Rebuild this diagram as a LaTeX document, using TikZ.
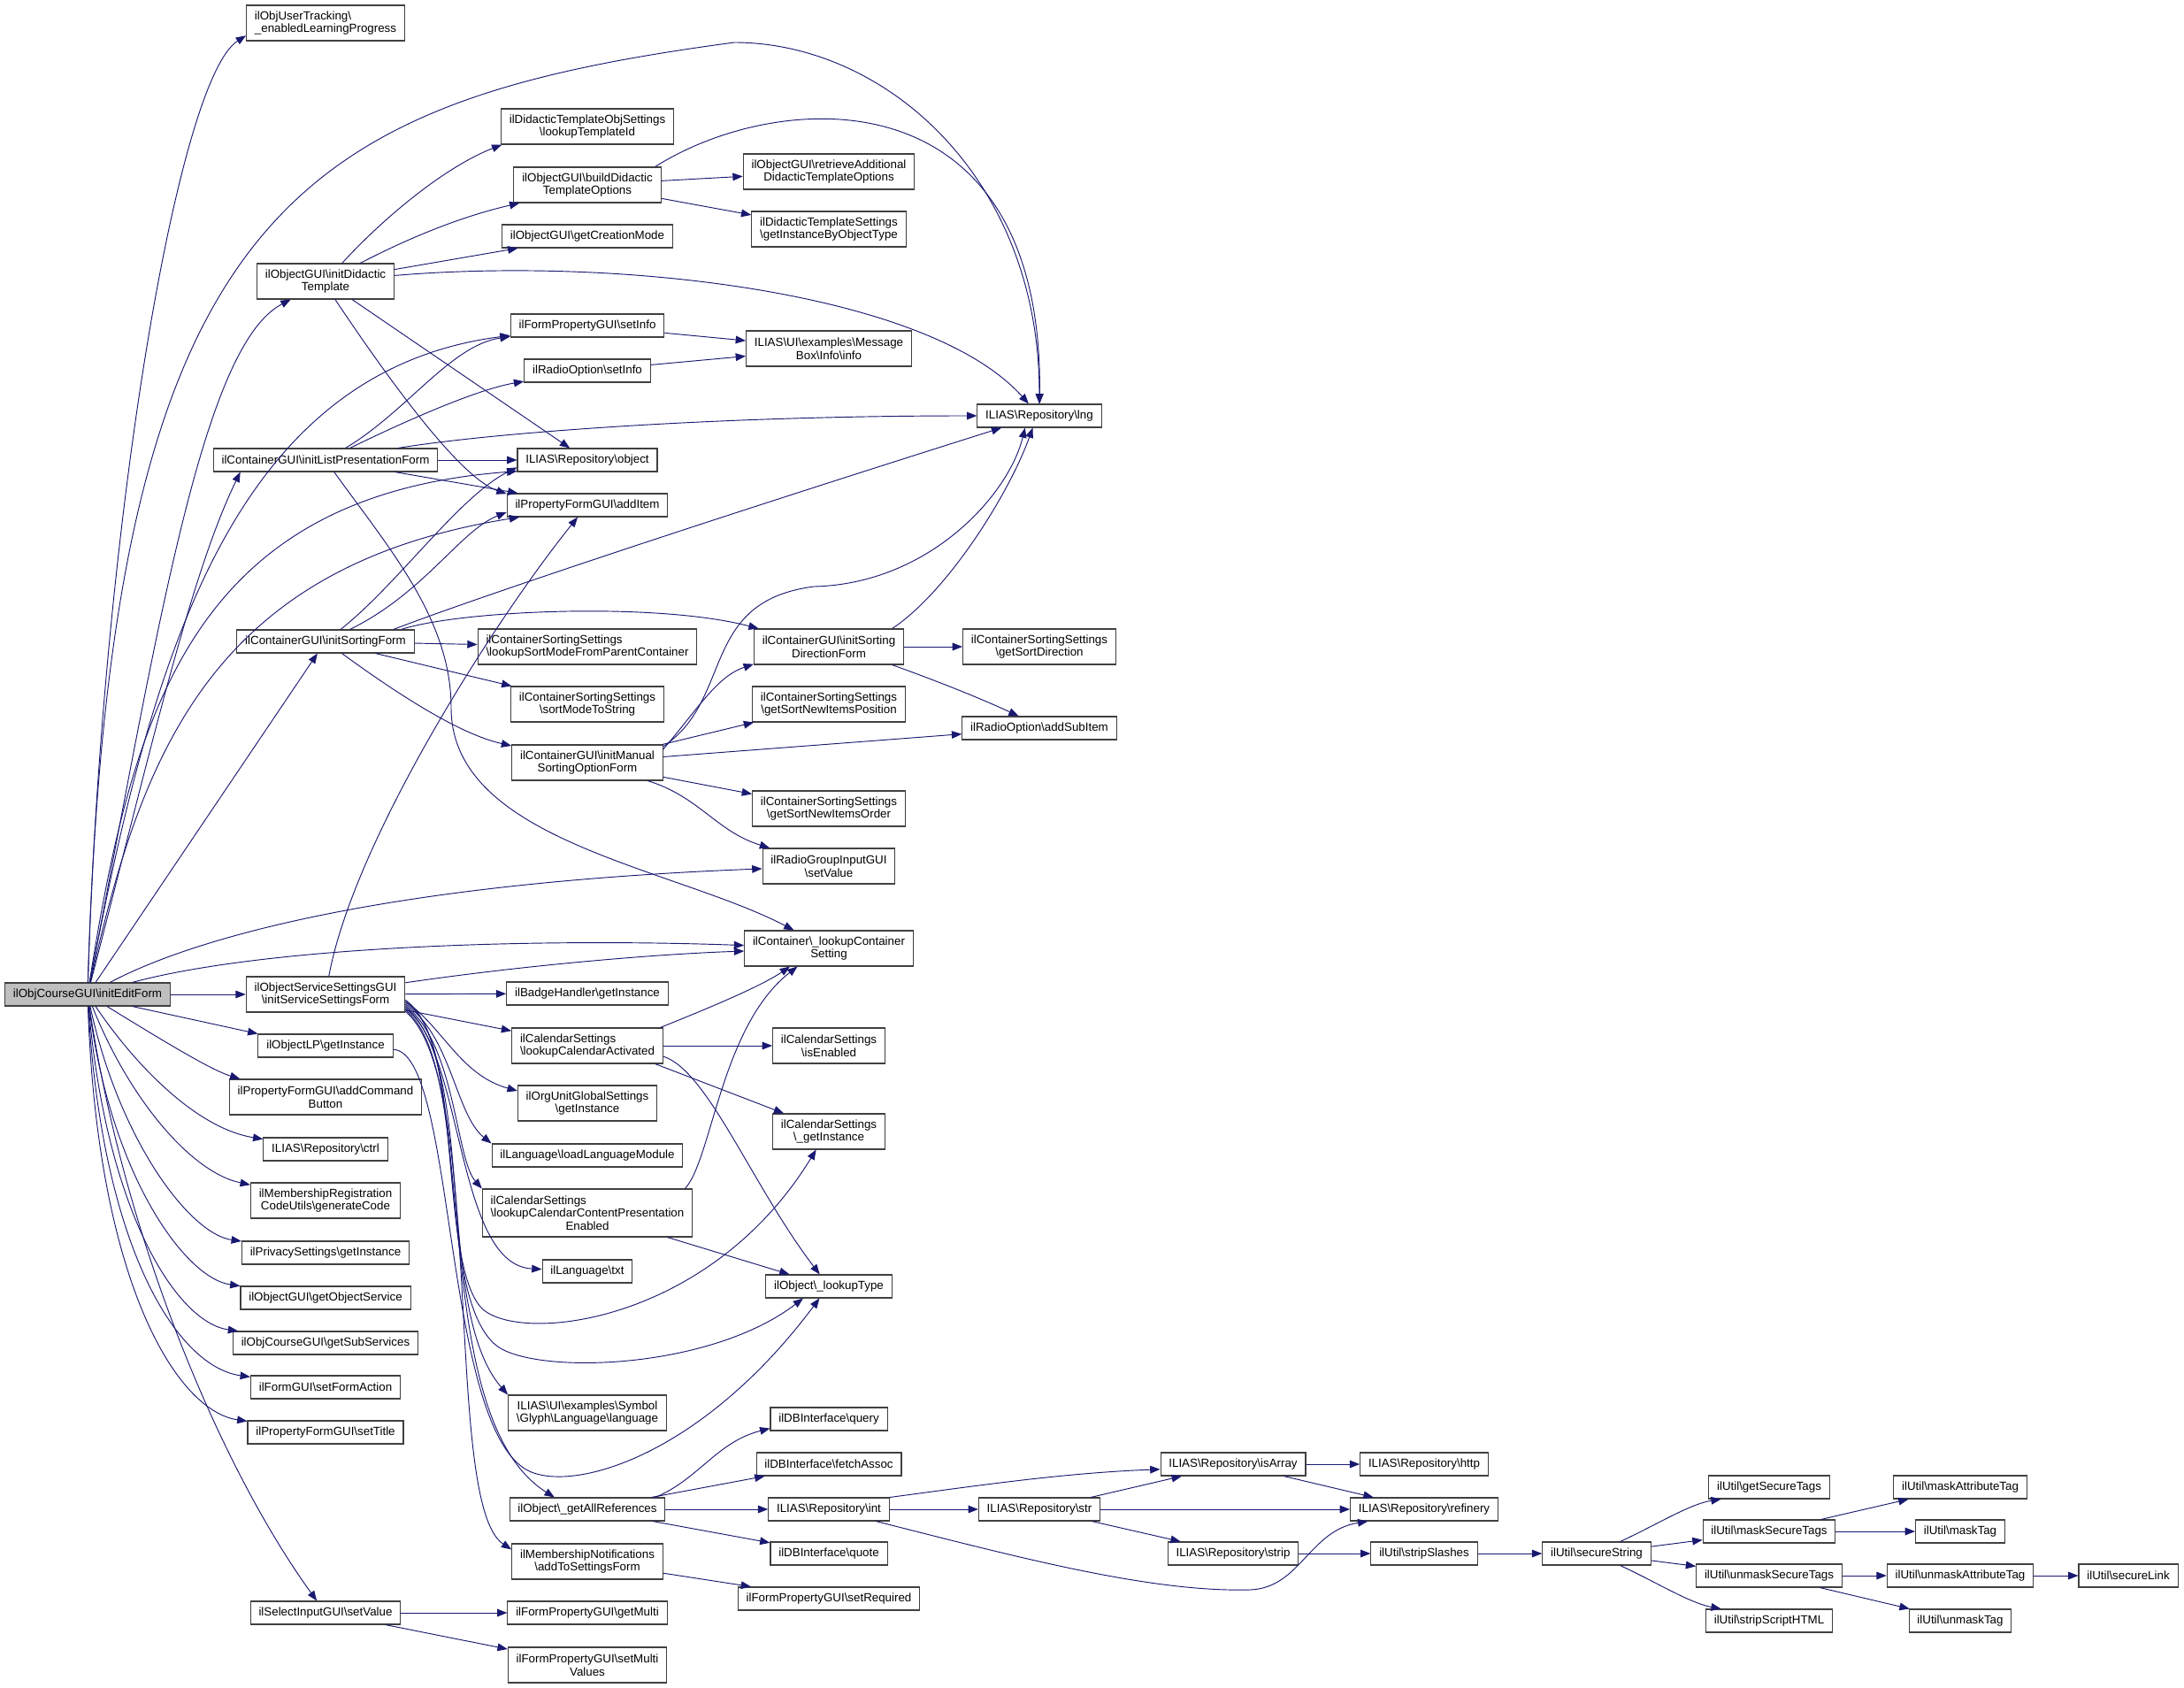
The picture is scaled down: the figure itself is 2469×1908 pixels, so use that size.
\documentclass[tikz,border=0pt]{standalone}
\usepackage{fontspec}
\setmainfont{Liberation Sans}
\usetikzlibrary{arrows.meta}
\definecolor{edgeblue}{HTML}{191970}
\definecolor{rootgray}{HTML}{BFBFBF}
\newcommand{\bsl}{\textbackslash}
\tikzset{
  fn/.style={draw=black!75, fill=white, line width=0.8pt, font=\fontsize{10}{11}\selectfont,
    inner xsep=7pt, inner ysep=1pt, minimum height=19.5pt, align=center},
  fntwo/.style={fn, minimum height=30pt},
  fnthree/.style={fn, minimum height=40.5pt},
  fnroot/.style={fn, fill=rootgray},
  call/.style={->, >={Triangle[length=8.5pt,width=6.5pt]}, draw=edgeblue, line width=0.7pt}
}
\begin{document}
\begin{tikzpicture}[x=0.75pt, y=0.75pt]
\fill[white] (0,0) rectangle (2469,-1908);
\node[fnroot] (root) at (99,-1124) {ilObjCourseGUI\bsl initEditForm};
\node[fntwo, align=left] (track) at (368,-26) {ilObjUserTracking\bsl\\\_enabledLearningProgress};
\node[fntwo] (didactic) at (368,-318) {ilObjectGUI\bsl initDidactic\\Template};
\node[fn] (listPres) at (368,-520) {ilContainerGUI\bsl initListPresentationForm};
\node[fn] (sorting) at (368,-725) {ilContainerGUI\bsl initSortingForm};
\node[fntwo] (service) at (368,-1124) {ilObjectServiceSettingsGUI\\\bsl initServiceSettingsForm};
\node[fn] (objLP) at (368,-1182) {ilObjectLP\bsl getInstance};
\node[fntwo] (addCmd) at (368,-1240) {ilPropertyFormGUI\bsl addCommand\\Button};
\node[fn] (ctrl) at (368,-1299) {ILIAS\bsl Repository\bsl ctrl};
\node[fntwo] (genCode) at (368,-1357) {ilMembershipRegistration\\CodeUtils\bsl generateCode};
\node[fn] (privacy) at (368,-1416) {ilPrivacySettings\bsl getInstance};
\node[fn] (objService) at (368,-1467) {ilObjectGUI\bsl getObjectService};
\node[fn] (subServ) at (368,-1518) {ilObjCourseGUI\bsl getSubServices};
\node[fn] (formAction) at (368,-1568) {ilFormGUI\bsl setFormAction};
\node[fn] (setTitle) at (368,-1619) {ilPropertyFormGUI\bsl setTitle};
\node[fn] (selValue) at (368,-1823) {ilSelectInputGUI\bsl setValue};
\node[fntwo] (tmplId) at (664,-143) {ilDidacticTemplateObjSettings\\\bsl lookupTemplateId};
\node[fntwo] (buildDid) at (664,-209) {ilObjectGUI\bsl buildDidactic\\TemplateOptions};
\node[fn] (creation) at (664,-267) {ilObjectGUI\bsl getCreationMode};
\node[fn] (fpInfo) at (664,-368) {ilFormPropertyGUI\bsl setInfo};
\node[fn] (roInfo) at (664,-419) {ilRadioOption\bsl setInfo};
\node[fn] (repoObj) at (664,-520) {ILIAS\bsl Repository\bsl object};
\node[fn] (addItem) at (664,-571) {ilPropertyFormGUI\bsl addItem};
\node[fntwo, align=left] (modeParent) at (664,-731) {ilContainerSortingSettings\\\bsl lookupSortModeFromParentContainer};
\node[fntwo] (modeToString) at (664,-796) {ilContainerSortingSettings\\\bsl sortModeToString};
\node[fntwo] (manual) at (664,-862) {ilContainerGUI\bsl initManual\\SortingOptionForm};
\node[fn] (badge) at (664,-1123) {ilBadgeHandler\bsl getInstance};
\node[fntwo, align=left] (calAct) at (664,-1182) {ilCalendarSettings\\\bsl lookupCalendarActivated};
\node[fntwo] (orgUnit) at (664,-1247) {ilOrgUnitGlobalSettings\\\bsl getInstance};
\node[fn] (loadLang) at (664,-1306) {ilLanguage\bsl loadLanguageModule};
\node[fnthree, align=left] (calContent) at (664,-1371) {ilCalendarSettings\\\bsl lookupCalendarContentPresentation\\\hspace*{\fill}Enabled\hspace*{\fill}};
\node[fn] (langTxt) at (664,-1437) {ilLanguage\bsl txt};
\node[fntwo] (glyph) at (664,-1597) {ILIAS\bsl UI\bsl examples\bsl Symbol\\\bsl Glyph\bsl Language\bsl language};
\node[fn] (getAllRefs) at (664,-1706) {ilObject\bsl\_getAllReferences};
\node[fntwo] (addToSet) at (664,-1765) {ilMembershipNotifications\\\bsl addToSettingsForm};
\node[fn] (getMulti) at (664,-1823) {ilFormPropertyGUI\bsl getMulti};
\node[fntwo] (setMultiVal) at (664,-1882) {ilFormPropertyGUI\bsl setMulti\\Values};
\node[fntwo] (retrieve) at (937,-194) {ilObjectGUI\bsl retrieveAdditional\\DidacticTemplateOptions};
\node[fntwo] (instByType) at (937,-259) {ilDidacticTemplateSettings\\\bsl getInstanceByObjectType};
\node[fntwo] (msgInfo) at (937,-394) {ILIAS\bsl UI\bsl examples\bsl Message\\Box\bsl Info\bsl info};
\node[fntwo] (sortDir) at (937,-731) {ilContainerGUI\bsl initSorting\\DirectionForm};
\node[fntwo] (newPos) at (937,-796) {ilContainerSortingSettings\\\bsl getSortNewItemsPosition};
\node[fntwo] (newOrder) at (937,-914) {ilContainerSortingSettings\\\bsl getSortNewItemsOrder};
\node[fntwo] (radioGrp) at (937,-979) {ilRadioGroupInputGUI\\\bsl setValue};
\node[fntwo] (lookupCont) at (937,-1072) {ilContainer\bsl\_lookupContainer\\Setting};
\node[fntwo] (calEnabled) at (937,-1182) {ilCalendarSettings\\\bsl isEnabled};
\node[fntwo] (calGetInst) at (937,-1279) {ilCalendarSettings\\\bsl\_getInstance};
\node[fn] (lookupType) at (937,-1454) {ilObject\bsl\_lookupType};
\node[fn] (dbQuery) at (937,-1604) {ilDBInterface\bsl query};
\node[fn] (dbFetch) at (937,-1655) {ilDBInterface\bsl fetchAssoc};
\node[fn] (repoInt) at (937,-1706) {ILIAS\bsl Repository\bsl int};
\node[fn] (dbQuote) at (937,-1756) {ilDBInterface\bsl quote};
\node[fn] (setReq) at (937,-1807) {ilFormPropertyGUI\bsl setRequired};
\node[fn] (lng) at (1175,-470) {ILIAS\bsl Repository\bsl lng};
\node[fntwo] (sortDirGet) at (1175,-731) {ilContainerSortingSettings\\\bsl getSortDirection};
\node[fn] (addSub) at (1175,-823) {ilRadioOption\bsl addSubItem};
\node[fn] (repoStr) at (1175,-1706) {ILIAS\bsl Repository\bsl str};
\node[fn] (isArray) at (1394,-1655) {ILIAS\bsl Repository\bsl isArray};
\node[fn] (strip) at (1394,-1756) {ILIAS\bsl Repository\bsl strip};
\node[fn] (http) at (1610,-1655) {ILIAS\bsl Repository\bsl http};
\node[fn] (refinery) at (1610,-1706) {ILIAS\bsl Repository\bsl refinery};
\node[fn] (stripSlashes) at (1610,-1756) {ilUtil\bsl stripSlashes};
\node[fn] (secureString) at (1805,-1756) {ilUtil\bsl secureString};
\node[fn] (getSecTags) at (2000,-1681) {ilUtil\bsl getSecureTags};
\node[fn] (maskSec) at (2000,-1731) {ilUtil\bsl maskSecureTags};
\node[fn] (unmaskSec) at (2000,-1781) {ilUtil\bsl unmaskSecureTags};
\node[fn] (stripScript) at (2000,-1832) {ilUtil\bsl stripScriptHTML};
\node[fn] (maskAttr) at (2216,-1681) {ilUtil\bsl maskAttributeTag};
\node[fn] (maskTag) at (2216,-1731) {ilUtil\bsl maskTag};
\node[fn] (unmaskAttr) at (2216,-1781) {ilUtil\bsl unmaskAttributeTag};
\node[fn] (unmaskTag) at (2216,-1832) {ilUtil\bsl unmaskTag};
\node[fn] (secureLink) at (2406,-1781) {ilUtil\bsl secureLink};
\draw[call] (root) .. controls (115,-600) and (200,-90) .. (track.-171);
\draw[call] (root) .. controls (125,-240) and (330,-115) .. (830,-48) .. controls (1000,-48) and (1175,-200) .. (lng);
\draw[call] (root) .. controls (180,-700) and (230,-390) .. (didactic);
\draw[call] (root) .. controls (170,-750) and (260,-420) .. (fpInfo);
\draw[call] (root) .. controls (170,-850) and (215,-650) .. (listPres.-172);
\draw[call] (root) .. controls (150,-800) and (220,-560) .. (repoObj.-171);
\draw[call] (root) .. controls (160,-850) and (240,-640) .. (addItem.-170);
\draw[call] (root) -- (sorting);
\draw[call] (root) .. controls (200,-1070) and (400,-1000) .. (radioGrp);
\draw[call] (root) .. controls (300,-1070) and (600,-1060) .. (lookupCont);
\draw[call] (root) -- (service);
\draw[call] (root.-15) -- (objLP.170);
\draw[call] (root) .. controls (190,-1180) and (240,-1210) .. (addCmd.168);
\draw[call] (root) .. controls (150,-1200) and (220,-1275) .. (ctrl);
\draw[call] (root) .. controls (145,-1240) and (215,-1325) .. (genCode);
\draw[call] (root) .. controls (135,-1290) and (215,-1395) .. (privacy);
\draw[call] (root) .. controls (125,-1330) and (210,-1445) .. (objService);
\draw[call] (root) .. controls (120,-1370) and (200,-1495) .. (subServ);
\draw[call] (root) .. controls (115,-1410) and (200,-1545) .. (formAction);
\draw[call] (root) .. controls (110,-1450) and (200,-1595) .. (setTitle);
\draw[call] (root) .. controls (140,-1400) and (250,-1660) .. (selValue);
\draw[call] (didactic) .. controls (430,-250) and (500,-190) .. (tmplId.-168);
\draw[call] (didactic) .. controls (460,-270) and (520,-245) .. (buildDid.-165);
\draw[call] (didactic) -- (creation);
\draw[call] (didactic) .. controls (700,-290) and (1050,-330) .. (lng);
\draw[call] (didactic) -- (repoObj);
\draw[call] (didactic.-62) .. controls (440,-430) and (520,-540) .. (addItem.172);
\draw[call] (buildDid.15) .. controls (880,-100) and (1180,-80) .. (lng);
\draw[call] (buildDid) -- (retrieve);
\draw[call] (buildDid) -- (instByType);
\draw[call] (fpInfo) -- (msgInfo);
\draw[call] (roInfo) -- (msgInfo);
\draw[call] (listPres) .. controls (460,-465) and (510,-390) .. (fpInfo);
\draw[call] (listPres) .. controls (460,-475) and (540,-440) .. (roInfo);
\draw[call] (listPres) .. controls (550,-490) and (800,-470) .. (lng);
\draw[call] (listPres) -- (repoObj);
\draw[call] (listPres) -- (addItem);
\draw[call] (listPres) .. controls (440,-620) and (510,-700) .. (510,-800) .. controls (510,-950) and (760,-980) .. (lookupCont);
\draw[call] (sorting) .. controls (450,-660) and (520,-560) .. (repoObj.-174);
\draw[call] (sorting) .. controls (480,-670) and (520,-600) .. (addItem.-175);
\draw[call] (sorting.10) .. controls (500,-690) and (700,-620) .. (lng);
\draw[call] (sorting.9) .. controls (520,-690) and (740,-680) .. (sortDir);
\draw[call] (sorting) -- (modeParent);
\draw[call] (sorting) -- (modeToString);
\draw[call] (sorting) .. controls (450,-785) and (520,-830) .. (manual);
\draw[call] (manual.12) .. controls (830,-790) and (790,-680) .. (920,-663) .. controls (1050,-660) and (1140,-560) .. (lng.-140);
\draw[call] (manual.10) .. controls (790,-800) and (810,-765) .. (sortDir.-167);
\draw[call] (manual) -- (newPos);
\draw[call] (manual) -- (addSub);
\draw[call] (manual) -- (newOrder);
\draw[call] (manual) .. controls (790,-900) and (810,-940) .. (radioGrp);
\draw[call] (sortDir.16) .. controls (1070,-670) and (1140,-560) .. (lng.-119);
\draw[call] (sortDir) -- (sortDirGet);
\draw[call] (sortDir.-16) .. controls (1060,-770) and (1110,-790) .. (addSub.150);
\draw[call] (service) .. controls (400,-950) and (560,-700) .. (addItem);
\draw[call] (service) .. controls (600,-1090) and (750,-1078) .. (lookupCont);
\draw[call] (service) -- (badge);
\draw[call] (service) -- (calAct);
\draw[call] (service.-5) .. controls (500,-1160) and (520,-1215) .. (orgUnit.170);
\draw[call] (service.-7) .. controls (510,-1170) and (515,-1260) .. (loadLang.north west);
\draw[call] (service.-8) .. controls (515,-1180) and (515,-1310) .. (calContent.north west);
\draw[call] (service.-9) .. controls (525,-1190) and (515,-1430) .. (langTxt);
\draw[call] (service.-10) .. controls (540,-1200) and (490,-1480) .. (glyph.north west);
\draw[call] (service.-11) .. controls (545,-1210) and (480,-1600) .. (getAllRefs.160);
\draw[call] (service.-12) .. controls (550,-1220) and (500,-1700) .. (addToSet.171);
\draw[call] (service.-6) .. controls (525,-1170) and (495,-1420) .. (543,-1477) .. controls (580,-1520) and (800,-1500) .. (calGetInst.-125);
\draw[call] (service.-4) .. controls (530,-1180) and (490,-1460) .. (560,-1520) .. controls (600,-1554) and (800,-1550) .. (lookupType.-155);
\draw[call] (objLP) .. controls (515,-1190) and (500,-1600) .. (593,-1660) .. controls (640,-1690) and (790,-1650) .. (lookupType.-128);
\draw[call] (calAct.14) .. controls (800,-1140) and (860,-1115) .. (lookupCont.-155);
\draw[call] (calAct) -- (calEnabled);
\draw[call] (calAct.-15) -- (calGetInst.158);
\draw[call] (calAct.-8) .. controls (800,-1210) and (850,-1340) .. (lookupType);
\draw[call] (calContent.14) .. controls (805,-1310) and (815,-1160) .. (lookupCont.-150);
\draw[call] (calContent) -- (lookupType);
\draw[call] (getAllRefs.10) .. controls (790,-1672) and (810,-1630) .. (dbQuery.-171);
\draw[call] (getAllRefs) -- (dbFetch);
\draw[call] (getAllRefs) -- (repoInt);
\draw[call] (getAllRefs) -- (dbQuote);
\draw[call] (addToSet) -- (setReq);
\draw[call] (selValue) -- (getMulti);
\draw[call] (selValue) -- (setMultiVal);
\draw[call] (repoInt.north east) .. controls (1100,-1680) and (1200,-1665) .. (isArray.-176);
\draw[call] (repoInt) -- (repoStr);
\draw[call] (repoInt) .. controls (1150,-1760) and (1300,-1800) .. (1413,-1797) .. controls (1470,-1795) and (1480,-1730) .. (refinery.-168);
\draw[call] (repoStr) -- (isArray);
\draw[call] (repoStr) -- (refinery);
\draw[call] (repoStr) -- (strip);
\draw[call] (isArray) -- (http);
\draw[call] (isArray) -- (refinery);
\draw[call] (strip) -- (stripSlashes);
\draw[call] (stripSlashes) -- (secureString);
\draw[call] (secureString.27) .. controls (1870,-1725) and (1910,-1700) .. (getSecTags.-166);
\draw[call] (secureString) -- (maskSec);
\draw[call] (secureString) -- (unmaskSec);
\draw[call] (secureString.-27) .. controls (1870,-1787) and (1910,-1812) .. (stripScript.166);
\draw[call] (maskSec) -- (maskAttr);
\draw[call] (maskSec) -- (maskTag);
\draw[call] (unmaskSec) -- (unmaskAttr);
\draw[call] (unmaskSec) -- (unmaskTag);
\draw[call] (unmaskAttr) -- (secureLink);
\end{tikzpicture}
\end{document}
